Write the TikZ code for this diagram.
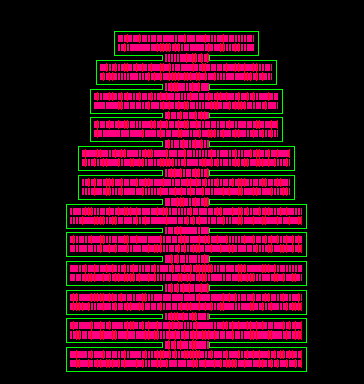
\documentclass[tikz,border=0pt]{standalone}
\definecolor{cellpink}{RGB}{255,0,128}
\definecolor{cellred}{RGB}{255,0,0}
\definecolor{outg}{RGB}{0,255,0}
\newcommand\cellrow[4]{%
  \fill[cellpink] (#1,#3) rectangle (#2,#4);
  \pgfmathsetmacro\ca{#1+2}\pgfmathsetmacro\cb{#1+5}\pgfmathsetmacro\cc{#2-2}%
  \foreach \x in {\ca,\cb,...,\cc}{%
    \pgfmathrandominteger{\r}{0}{5}%
    \ifnum\r<2 \fill[black] (\x,#3-0.1) rectangle ++(1,#4-#3+0.2);\fi
    \ifnum\r>3 \fill[cellred] (\x+1,#3-1) rectangle ++(0.9,#4-#3+1.8);\fi
  }}
\begin{document}
\begin{tikzpicture}[x=1pt,y=-1pt]
\fill[black] (0,0) rectangle (364,384);
\useasboundingbox (0,0) rectangle (364,384);
\pgfmathsetseed{7}
\foreach \L/\R/\T/\B in {114.3/258.3/31.3/55.3, 96.3/276.3/60.3/84.3, 90.3/282.3/89.3/113.3, 90.3/282.3/117.3/141.3, 78.3/294.3/146.3/170.3, 78.3/294.3/175.3/199.3, 66.3/306.3/204.3/228.3, 66.3/306.3/232.3/256.3, 66.3/306.3/261.3/285.3, 66.3/306.3/290.3/314.3, 66.3/306.3/318.8/342.8, 66.3/306.3/347.3/371.3}{
  \pgfmathsetmacro\xa{\L+4}\pgfmathsetmacro\xb{\R-4}
  \pgfmathsetmacro\ya{\T+3.5}\pgfmathsetmacro\yb{\T+10.5}
  \pgfmathsetmacro\yc{\T+12.5}\pgfmathsetmacro\yd{\T+20}
  \cellrow{\xa}{\xb}{\ya}{\yb}
  \cellrow{\xa}{\xb}{\yc}{\yd}
}
\foreach \Ba/\Tb in {55.3/60.3, 84.3/89.3, 113.3/117.3, 141.3/146.3, 170.3/175.3, 199.3/204.3, 228.3/232.3, 256.3/261.3, 285.3/290.3, 314.3/318.8, 342.8/347.3}{
  \pgfmathsetmacro\ya{\Ba-1.5}\pgfmathsetmacro\yb{\Tb+1.5}
  \cellrow{165}{208.5}{\ya}{\yb}
}
\draw[outg,line width=1pt] (114.3,31.3) -- (258.3,31.3) -- (258.3,55.3) -- (209.8,55.3) -- (209.8,60.3) -- (276.3,60.3) -- (276.3,84.3) -- (209.8,84.3) -- (209.8,89.3) -- (282.3,89.3) -- (282.3,113.3) -- (209.8,113.3) -- (209.8,117.3) -- (282.3,117.3) -- (282.3,141.3) -- (209.8,141.3) -- (209.8,146.3) -- (294.3,146.3) -- (294.3,170.3) -- (209.8,170.3) -- (209.8,175.3) -- (294.3,175.3) -- (294.3,199.3) -- (209.8,199.3) -- (209.8,204.3) -- (306.3,204.3) -- (306.3,228.3) -- (209.8,228.3) -- (209.8,232.3) -- (306.3,232.3) -- (306.3,256.3) -- (209.8,256.3) -- (209.8,261.3) -- (306.3,261.3) -- (306.3,285.3) -- (209.8,285.3) -- (209.8,290.3) -- (306.3,290.3) -- (306.3,314.3) -- (209.8,314.3) -- (209.8,318.8) -- (306.3,318.8) -- (306.3,342.8) -- (209.8,342.8) -- (209.8,347.3) -- (306.3,347.3) -- (306.3,371.3) -- (66.3,371.3) -- (66.3,347.3) -- (162.8,347.3) -- (162.8,342.8) -- (66.3,342.8) -- (66.3,318.8) -- (162.8,318.8) -- (162.8,314.3) -- (66.3,314.3) -- (66.3,290.3) -- (162.8,290.3) -- (162.8,285.3) -- (66.3,285.3) -- (66.3,261.3) -- (162.8,261.3) -- (162.8,256.3) -- (66.3,256.3) -- (66.3,232.3) -- (162.8,232.3) -- (162.8,228.3) -- (66.3,228.3) -- (66.3,204.3) -- (162.8,204.3) -- (162.8,199.3) -- (78.3,199.3) -- (78.3,175.3) -- (162.8,175.3) -- (162.8,170.3) -- (78.3,170.3) -- (78.3,146.3) -- (162.8,146.3) -- (162.8,141.3) -- (90.3,141.3) -- (90.3,117.3) -- (162.8,117.3) -- (162.8,113.3) -- (90.3,113.3) -- (90.3,89.3) -- (162.8,89.3) -- (162.8,84.3) -- (96.3,84.3) -- (96.3,60.3) -- (162.8,60.3) -- (162.8,55.3) -- (114.3,55.3) -- cycle;
\end{tikzpicture}
\end{document}
